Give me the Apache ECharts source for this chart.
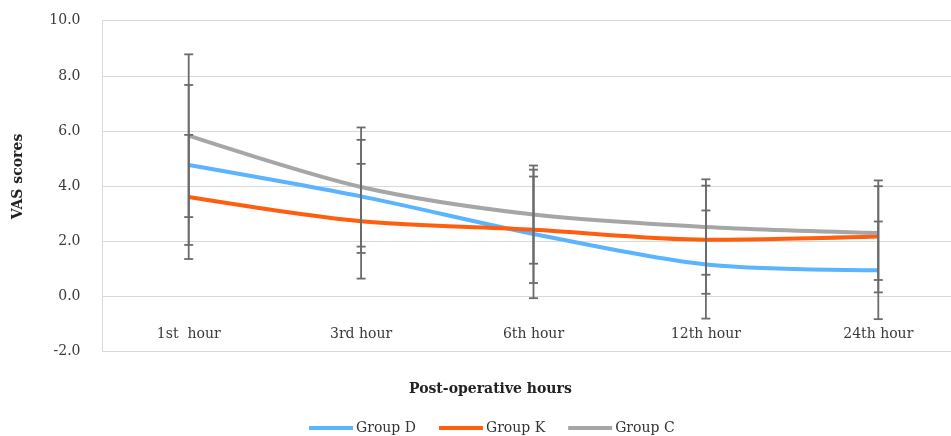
<!DOCTYPE html>
<html>
<head>
<meta charset="utf-8">
<script src="https://cdn.jsdelivr.net/npm/echarts@6/dist/echarts.min.js"></script>
<style>html,body{margin:0;padding:0;background:#fff;}#c{width:951px;height:436px;}</style>
</head>
<body>
<div id="c"></div>
<script>
const categories = ['1st  hour', '3rd hour', '6th hour', '12th hour', '24th hour'];
const groupD = [4.77, 3.63, 2.27, 1.16, 0.95];
const groupK = [3.61, 2.73, 2.42, 2.06, 2.18];
const groupC = [5.83, 3.97, 2.97, 2.52, 2.30];
const sdD = [2.90, 2.05, 2.33, 1.96, 1.77];
const sdK = [2.25, 2.08, 1.93, 1.96, 2.03];
const sdC = [2.95, 2.16, 1.78, 1.73, 1.70];
const yTicks = { min: -2, max: 10, interval: 2 };

const FONT = 'DejaVu Serif';
const chart = echarts.init(document.getElementById('c'));

function errSeries(name, means, sds) {
  return {
    type: 'custom',
    name: name + ' SD',
    z: 5,
    silent: true,
    data: means.map((m, i) => [i, m - sds[i], m + sds[i]]),
    renderItem: function (params, api) {
      const lo = api.coord([api.value(0), api.value(1)]);
      const hi = api.coord([api.value(0), api.value(2)]);
      const w = 4.5;
      const st = { stroke: '#6b6b6b', lineWidth: 1.8 };
      return {
        type: 'group',
        children: [
          { type: 'line', shape: { x1: lo[0], y1: lo[1], x2: hi[0], y2: hi[1] }, style: st },
          { type: 'line', shape: { x1: lo[0] - w, y1: lo[1], x2: lo[0] + w, y2: lo[1] }, style: st },
          { type: 'line', shape: { x1: hi[0] - w, y1: hi[1], x2: hi[0] + w, y2: hi[1] }, style: st }
        ]
      };
    }
  };
}

function lineSeries(name, data, color) {
  return {
    type: 'line', name: name, data: data, smooth: 0.3, symbol: 'none', z: 3,
    lineStyle: { color: color, width: 4 }, itemStyle: { color: color }
  };
}

chart.setOption({
  animation: false,
  grid: { left: 102.5, right: -13.5, top: 20.7, bottom: 84.3, containLabel: false, outerBoundsMode: 'none' },
  xAxis: {
    type: 'category', data: categories, boundaryGap: true,
    offset: -54.7,
    axisLine: { show: false, onZero: false },
    axisTick: { show: false },
    axisLabel: { margin: 30, fontFamily: FONT, fontSize: 14, color: '#3a3a3a' }
  },
  yAxis: {
    type: 'value', min: yTicks.min, max: yTicks.max, interval: yTicks.interval,
    axisLine: { show: true, lineStyle: { color: '#d9d9d9', width: 1 } },
    axisTick: { show: false },
    splitLine: { lineStyle: { color: '#d9d9d9', width: 1 } },
    axisLabel: { margin: 22, fontFamily: FONT, fontSize: 14, color: '#3a3a3a', formatter: v => v.toFixed(1) }
  },
  title: {
    text: 'Post-operative hours', left: 404, top: 377,
    textStyle: { fontFamily: FONT, fontSize: 14, fontWeight: 'bold', color: '#222' }
  },
  graphic: [{
    type: 'text', x: 18, y: 176.5, rotation: Math.PI / 2,
    style: { text: 'VAS scores', fontFamily: FONT, fontSize: 14, fontWeight: 'bold', fill: '#222', align: 'center', verticalAlign: 'middle' }
  }],
  legend: {
    data: ['Group D', 'Group K', 'Group C'],
    left: 304, top: 416, icon: 'rect', itemWidth: 44, itemHeight: 4, itemGap: 23,
    textStyle: { fontFamily: FONT, fontSize: 14, color: '#333', padding: [0, 0, 0, -2] }
  },
  series: [
    lineSeries('Group D', groupD, '#5ab4ff'),
    lineSeries('Group K', groupK, '#ff5e0e'),
    lineSeries('Group C', groupC, '#a6a6a6'),
    errSeries('Group D', groupD, sdD),
    errSeries('Group K', groupK, sdK),
    errSeries('Group C', groupC, sdC)
  ]
});
</script>
</body>
</html>
